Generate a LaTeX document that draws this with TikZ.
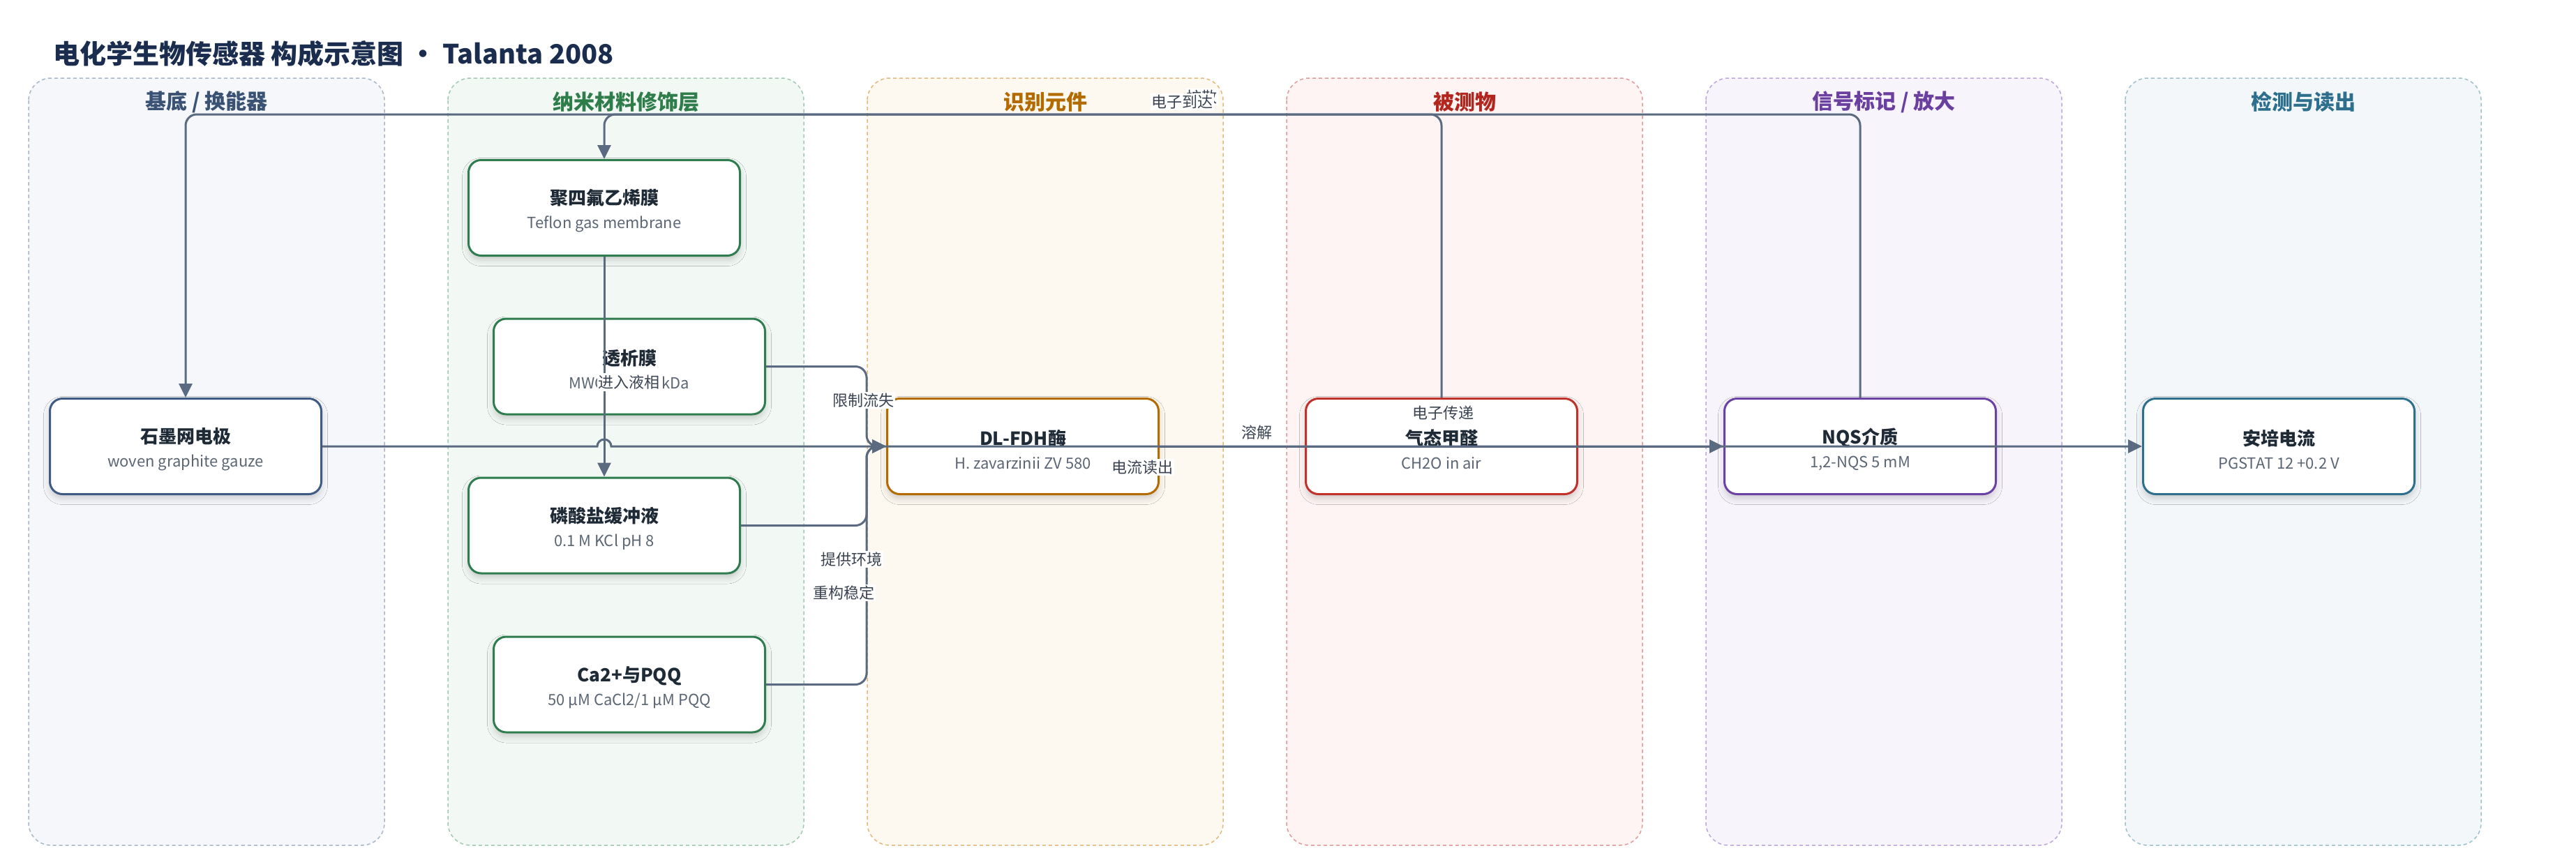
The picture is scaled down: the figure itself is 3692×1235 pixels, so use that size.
\documentclass[tikz,border=0pt]{standalone}
\usepackage{fontspec}
\setmainfont{Noto Sans CJK SC}
\usetikzlibrary{arrows.meta,shadows.blur}
\definecolor{linkc}{HTML}{5A6A80}
\definecolor{titlec}{HTML}{1F2A37}
\definecolor{subc}{HTML}{5B6675}
\definecolor{labelc}{HTML}{3A4352}
\definecolor{headc}{HTML}{1B2D4F}
\definecolor{pAfill}{HTML}{F5F7FB}\definecolor{pAdraw}{HTML}{A7B6CB}\definecolor{pAtext}{HTML}{3A5273}
\definecolor{pBfill}{HTML}{F2F8F4}\definecolor{pBdraw}{HTML}{9FCAB0}\definecolor{pBtext}{HTML}{2F7D4B}
\definecolor{pCfill}{HTML}{FDF8F0}\definecolor{pCdraw}{HTML}{E2B97A}\definecolor{pCtext}{HTML}{B36B00}
\definecolor{pDfill}{HTML}{FDF4F3}\definecolor{pDdraw}{HTML}{E29A98}\definecolor{pDtext}{HTML}{B3261E}
\definecolor{pEfill}{HTML}{F7F4FB}\definecolor{pEdraw}{HTML}{BDA6DC}\definecolor{pEtext}{HTML}{6B3FA0}
\definecolor{pFfill}{HTML}{F3F7F9}\definecolor{pFdraw}{HTML}{9DC0CD}\definecolor{pFtext}{HTML}{2E6F8E}
\definecolor{bA}{HTML}{3F5B83}
\definecolor{bB}{HTML}{2F7D4F}
\definecolor{bC}{HTML}{B36B00}
\definecolor{bD}{HTML}{C0312B}
\definecolor{bE}{HTML}{6B41A3}
\definecolor{bF}{HTML}{2E6F8E}
\newcommand{\boxtext}[2]{\rule{0pt}{31pt}{\fontsize{26}{34}\selectfont\bfseries\color{titlec}#1}\\{\color{subc}#2}}
\begin{document}
\begin{tikzpicture}[x=1pt,y=-1pt,
  panel/.style={line width=1.5pt,dash pattern=on 5pt off 4pt,rounded corners=32pt},
  paneltitle/.style={font=\fontsize{30}{36}\selectfont\bfseries,inner sep=0pt},
  boxnode/.style={rectangle,rounded corners=18pt,minimum width=389pt,minimum height=137pt,
    fill=white,line width=3pt,align=center,inner sep=0pt,font=\fontsize{22}{34}\selectfont,
    blur shadow={shadow xshift=0pt,shadow yshift=-6pt,shadow blur radius=9pt,shadow opacity=18}},
  conn/.style={draw=linkc,line width=3pt,rounded corners=16pt},
  arr/.style={-{Triangle[length=20pt,width=19pt]}},
  elabel/.style={fill=white,text=labelc,font=\fontsize{22}{26}\selectfont,inner sep=1.5pt}]
\useasboundingbox[fill=white] (0,0) rectangle (3692,1235);
% title
\node[anchor=west,inner sep=0pt,text=headc,font=\fontsize{38}{44}\selectfont\bfseries] (title) at (76,77) {电化学生物传感器 构成示意图 · Talanta 2008};
% panels
\draw[panel,fill=pAfill,draw=pAdraw] (41,112) rectangle (551,1212);
\draw[panel,fill=pBfill,draw=pBdraw] (642,112) rectangle (1152,1212);
\draw[panel,fill=pCfill,draw=pCdraw] (1243,112) rectangle (1753,1212);
\draw[panel,fill=pDfill,draw=pDdraw] (1844,112) rectangle (2354,1212);
\draw[panel,fill=pEfill,draw=pEdraw] (2445,112) rectangle (2955,1212);
\draw[panel,fill=pFfill,draw=pFdraw] (3046,112) rectangle (3556,1212);
\node[paneltitle,text=pAtext] (hA) at (296,146) {基底 / 换能器};
\node[paneltitle,text=pBtext] (hB) at (897,146) {纳米材料修饰层};
\node[paneltitle,text=pCtext] (hC) at (1498,146) {识别元件};
\node[paneltitle,text=pDtext] (hD) at (2099,146) {被测物};
\node[paneltitle,text=pEtext] (hE) at (2700,146) {信号标记 / 放大};
\node[paneltitle,text=pFtext] (hF) at (3301,146) {检测与读出};
% nodes
\node[boxnode,draw=bA] (n1) at (266,640) {\boxtext{石墨网电极}{woven graphite gauze}};
\node[boxnode,draw=bB] (n2) at (866,298) {\boxtext{聚四氟乙烯膜}{Teflon gas membrane}};
\node[boxnode,draw=bB] (n3) at (902,525.5) {\boxtext{透析膜}{MWCO 12-14 kDa}};
\node[boxnode,draw=bB] (n4) at (866,753.5) {\boxtext{磷酸盐缓冲液}{0.1 M KCl pH 8}};
\node[boxnode,draw=bB] (n5) at (902,981.5) {\boxtext{Ca2+与PQQ}{50 μM CaCl2/1 μM PQQ}};
\node[boxnode,draw=bC] (n6) at (1466,640) {\boxtext{DL-FDH酶}{H. zavarzinii ZV 580}};
\node[boxnode,draw=bD] (n7) at (2066,640) {\boxtext{气态甲醛}{CH2O in air}};
\node[boxnode,draw=bE] (n8) at (2666,640) {\boxtext{NQS介质}{1,2-NQS 5 mM}};
\node[boxnode,draw=bF] (n9) at (3266,640) {\boxtext{安培电流}{PGSTAT 12 +0.2 V}};
% helper coordinates
\coordinate (topy) at (0,164);
\coordinate (busx) at (1242,0);
\coordinate (hop) at (866,640);
% connectors
\draw[conn,arr] (n8.north) -- (n8.north |- topy) -- (n1.north |- topy) -- (n1.north);
\draw[conn,arr] (n7.north) -- (n7.north |- topy) -- (n2.north |- topy) -- (n2.north);
\draw[conn,arr] (n2.south) -- (n4.north);
\draw[conn,arr] (n3.east) -- (busx |- n3.east) -- (busx |- n6.west) -- (n6.west);
\draw[conn,arr] (n4.east) -- (busx |- n4.east) -- (busx |- n6.west) -- (n6.west);
\draw[conn,arr] (n5.east) -- (busx |- n5.east) -- (busx |- n6.west) -- (n6.west);
\draw[draw=linkc,line width=3pt,arr] (n1.east) -- ([xshift=-10pt]hop) arc[start angle=180,end angle=0,radius=10pt] -- (n9.west);
\draw[conn,arr] (n6.east) -- (n8.west);
% labels
\node[elabel,inner ysep=3pt] (l1) at (901,548) {进入液相};
\node[elabel] (l2) at (1237,574) {限制流失};
\node[elabel] (l3) at (1220,802) {提供环境};
\node[elabel] (l4) at (1209,850) {重构稳定};
\node[elabel] (l5) at (1637,670) {电流读出};
\node[elabel] (l6) at (1801,620) {溶解};
\node[elabel] (l7) at (2068,592) {电子传递};
\node[elabel] (l8) at (1722,139) {扩散};
\node[elabel] (l9) at (1694,146) {电子到达};
\end{tikzpicture}
\end{document}
